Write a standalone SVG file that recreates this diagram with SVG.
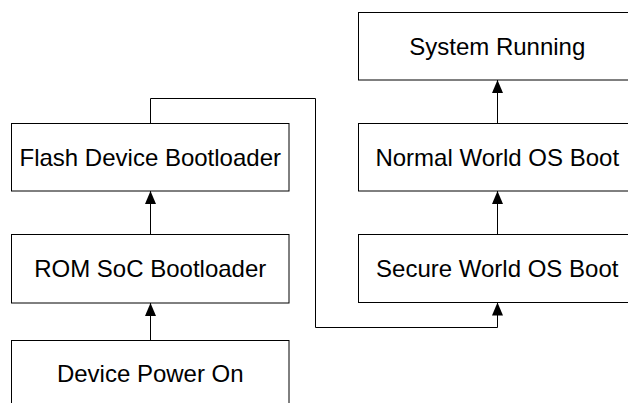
<svg xmlns="http://www.w3.org/2000/svg" width="628" height="403" viewBox="0 0 628 403">
<defs>
<marker id="arr" markerWidth="13" markerHeight="11" refX="13" refY="5.5" orient="auto" markerUnits="userSpaceOnUse">
<path d="M0,0 L13,5.5 L0,11 z" fill="#000"/>
</marker>
<style>
.box{fill:#fff;stroke:#000;stroke-width:1}
.lbl{font-family:"Liberation Sans",Arial,sans-serif;font-size:24px;fill:#000;text-anchor:middle}
.conn{fill:none;stroke:#000;stroke-width:1;marker-end:url(#arr)}
</style>
</defs>
<rect width="628" height="403" fill="#fff"/>
<g id="connectors">
<path class="conn" d="M150.5,340.5 V303"/>
<path class="conn" d="M150.5,234.5 V191"/>
<path class="conn" d="M150.5,123.5 V98.5 H315.5 V327.5 H497.5 V302.5"/>
<path class="conn" d="M497.5,234.5 V191"/>
<path class="conn" d="M497.5,123.5 V80"/>
</g>
<g id="system-running">
<rect class="box" x="358.5" y="12.5" width="277.5" height="67.5"/>
<text class="lbl" x="497.25" y="54.7">System Running</text>
</g>
<g id="flash-device-bootloader">
<rect class="box" x="11.5" y="123.5" width="277.5" height="67.5"/>
<text class="lbl" x="150.25" y="165.7">Flash Device Bootloader</text>
</g>
<g id="normal-world-os-boot">
<rect class="box" x="358.5" y="123.5" width="277.5" height="67.5"/>
<text class="lbl" x="497.25" y="165.7">Normal World OS Boot</text>
</g>
<g id="rom-soc-bootloader">
<rect class="box" x="11.5" y="234.5" width="277.5" height="68.5"/>
<text class="lbl" x="150.25" y="277">ROM SoC Bootloader</text>
</g>
<g id="secure-world-os-boot">
<rect class="box" x="358.5" y="234.5" width="277.5" height="68"/>
<text class="lbl" x="497.25" y="277">Secure World OS Boot</text>
</g>
<g id="device-power-on">
<rect class="box" x="11.5" y="340.5" width="277.5" height="68"/>
<text class="lbl" x="150.25" y="382">Device Power On</text>
</g>
</svg>
